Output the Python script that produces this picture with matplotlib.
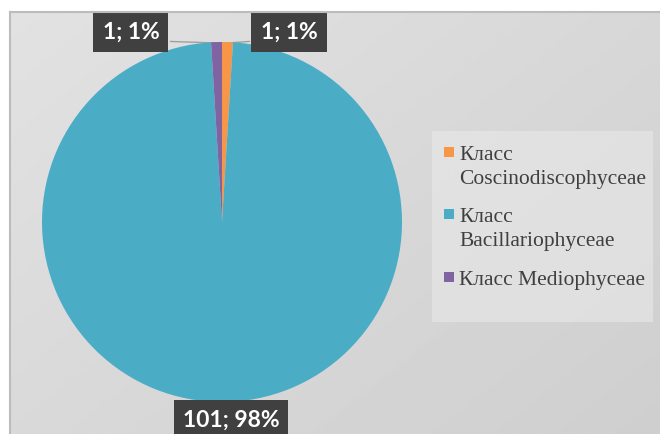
import numpy as np
import matplotlib.pyplot as plt
from matplotlib.patches import Rectangle

# Данные: число видов по классам
klassy = ['Класс\nCoscinodiscophyceae', 'Класс\nBacillariophyceae', 'Класс Mediophyceae']
chislo = [1, 101, 1]
cveta = ['#F79646', '#4BACC6', '#8064A2']

W, H = 660, 434
fig = plt.figure(figsize=(W / 100, H / 100), dpi=100, facecolor='white')

# серый фон области диаграммы с диагональным градиентом
bg = fig.add_axes([10 / W, 0, (W - 10) / W, (H - 12) / H])
gx, gy = np.meshgrid(np.linspace(0, 1, 200), np.linspace(0, 1, 200))
grad = 0.885 - 0.075 * (0.55 * gx + 0.45 * gy)
bg.imshow(grad, cmap='gray', vmin=0, vmax=1, aspect='auto', extent=[0, 1, 1, 0])
bg.set_xlim(0, 1)
bg.set_ylim(1, 0)
bg.axis('off')
fig.add_artist(plt.Line2D([10 / W, 1], [1 - 12 / H, 1 - 12 / H], color='#bcbcbc', lw=1.5))
fig.add_artist(plt.Line2D([10 / W, 10 / W], [0, 1 - 12 / H], color='#bcbcbc', lw=1.5))

# круговая диаграмма: центр (222, 222) пикс., радиус 180
cx, cy, r = 222, 222, 180
ax = fig.add_axes([(cx - r) / W, (H - cy - r) / H, 2 * r / W, 2 * r / H])
wedges, _ = ax.pie(chislo, colors=cveta, startangle=90, counterclock=False,
                   radius=1, wedgeprops=dict(linewidth=0))
ax.set_xlim(-1, 1)
ax.set_ylim(-1, 1)
ax.set_aspect('equal')
ax.axis('off')

# подписи значений
vsego = sum(chislo)
podpisi = [f'{v}; {round(100 * v / vsego)}%' for v in chislo]
polozh = [(0.372, 1.053), (0.05, -1.10), (-0.506, 1.053)]
for w, txt, (tx, ty) in zip(wedges, podpisi, polozh):
    ang = np.deg2rad((w.theta1 + w.theta2) / 2)
    px, py = np.cos(ang), np.sin(ang)
    ax.text(tx, ty, txt, ha='center', va='center', color='white',
            fontsize=16.5, fontweight='bold', family='Lato', clip_on=False,
            bbox=dict(boxstyle='square,pad=0.40', facecolor='#404040',
                      edgecolor='none'))
    if abs(tx) > 0.2:
        ex = tx - np.sign(tx) * 0.22
        ax.plot([ex, px * 0.995], [ty - 0.05, py * 0.995], color='#a0a0a0',
                lw=1, clip_on=False, zorder=0.5)

# легенда
fig.add_artist(Rectangle((432 / W, 1 - 322 / H), 221 / W, 191 / H,
                         transform=fig.transFigure, facecolor='#e9e9e9',
                         edgecolor='none', alpha=0.6))
ly = [160, 222, 285]
for name, c, y in zip(klassy, cveta, ly):
    fig.add_artist(Rectangle((444 / W, 1 - (y - 3) / H), 10 / W, 10 / H,
                             transform=fig.transFigure, facecolor=c,
                             edgecolor='none'))
    for k, stroka in enumerate(name.split('\n')):
        fig.text(459 / W, 1 - (y + 24 * k) / H, stroka, ha='left',
                 va='baseline', family='Liberation Serif', fontsize=15.5,
                 color='#3f3f3f')

fig.savefig('out.png', dpi=100, facecolor='white')
